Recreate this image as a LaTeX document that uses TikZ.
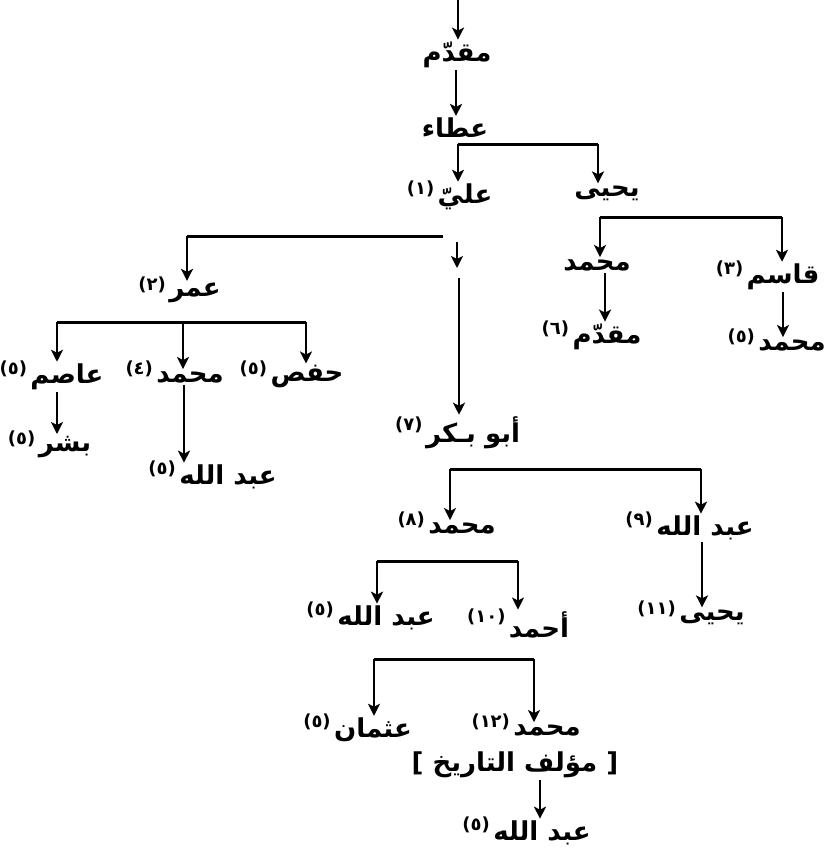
\documentclass[tikz,border=0pt]{standalone}
\usepackage{fontspec}
\newfontfamily\arabicfont[Script=Arabic]{DejaVu Sans}
\newfontfamily\numfont{DejaVu Sans}
\TeXXeTstate=1
\usetikzlibrary{arrows.meta}

\tikzset{
  nm/.style={font=\arabicfont\bfseries\fontsize{26}{30}\selectfont, inner sep=2pt},
  num/.style={font=\numfont\bfseries\fontsize{18}{20}\selectfont, inner sep=0pt, anchor=east},
  arr/.style={-{Stealth[length=12pt,width=12pt,inset=3pt]}, line width=2.4pt},
  bar/.style={line width=3pt},
}

\begin{document}
\begin{tikzpicture}[x=1pt,y=-1pt]
  \useasboundingbox (0,0) rectangle (825,854);

  %names
  \foreach \x/\y/\name/\txt in {457/55/muq/مقدّم, 455/128/ata/عطاء, 465/197/ali/عليّ, 607/193/yah/يحيى,
      597/265/muha/محمد, 783/277/qas/قاسم, 607/337/muqb/مقدّم, 792/345/muhb/محمد,
      195/293/umar/عمر, 67/377/asim/عاصم, 190/377/muhc/محمد, 307/377/hafs/حفص,
      65/447/bish/بشر, 228/477/abda/عبد الله, 473/433/abub/أبو بـكر,
      462/528/muhd/محمد, 705/528/abdb/عبد الله, 712/617/yahb/يحيى,
      386/618/abdc/عبد الله, 539/625/ahm/أحمد, 373/730/uth/عثمان, 547/730/muhe/محمد,
      542/833/abdd/عبد الله}{
      \node[nm] (\name) at (\x,\y) {\beginR\txt\endR};
  }
  \node[nm] (muhe-t) at (515,765) {{\numfont[}\ \beginR مؤلف التاريخ\endR\ {\numfont]}};

  %numbers
  \foreach \name/\n in {ali/١, qas/٣, muqb/٦, muhb/٥, umar/٢, asim/٥, muhc/٤, hafs/٥, bish/٥,
      abda/٥, abub/٧, muhd/٨, abdb/٩, yahb/١١, abdc/٥, ahm/١٠, uth/٥, muhe/١٢, abdd/٥}{
      \node[num] (\name-n) at ([xshift=-1pt,yshift=8pt]\name.west) {(\n)};
  }

  %top
  \coordinate (top) at (458,0);
  \draw[arr] (top) -- (top |- muq.north);

  %single links
  \foreach \a/\b/\x in {muq/ata/456, muha/muqb/605, qas/muhb/783, asim/bish/57,
      muhc/abda/184, abdb/yahb/702, muhe-t/abdd/540}{
      \coordinate (\b-in) at (\x,0);
      \draw[arr] (\a.south -| \b-in) -- (\b.north -| \b-in);
  }

  %ata
  \coordinate (ali-in) at (458,144);
  \coordinate (yah-in) at (598,144);
  \draw[bar] (ali-in) -- (yah-in);

  %yahya
  \coordinate (muha-in) at (600,217);
  \coordinate (qas-in) at (782,217);
  \draw[bar] (muha-in) -- (qas-in);

  %ali
  \coordinate (ali-l) at (443,236);
  \coordinate (umar-in) at (187,236);
  \draw[bar] (ali-l) -- (umar-in);
  \coordinate (ali-out) at (457,242);
  \coordinate (ali-gap) at (457,268);
  \coordinate (abub-in) at (459,278);
  \draw[arr] (ali-out) -- (ali-gap);
  \draw[arr] (abub-in) -- (abub-in |- abub.north);

  %umar
  \coordinate (asim-in) at (57,322);
  \coordinate (muhc-in) at (183,322);
  \coordinate (hafs-in) at (306,322);
  \draw[bar] (asim-in) -- (hafs-in);

  %abu bakr
  \coordinate (muhd-in) at (450,469);
  \coordinate (abdb-in) at (701,469);
  \draw[bar] (muhd-in) -- (abdb-in);

  %muhammad
  \coordinate (abdc-in) at (377,561);
  \coordinate (ahm-in) at (518,561);
  \draw[bar] (abdc-in) -- (ahm-in);

  %abd allah
  \coordinate (uth-in) at (374,659);
  \coordinate (muhe-in) at (534,659);
  \draw[bar] (uth-in) -- (muhe-in);

  %children
  \foreach \c in {ali, yah, muha, qas, umar, asim, muhc, hafs, muhd, abdb, abdc, ahm, uth, muhe}{
      \draw[arr] (\c-in) -- (\c-in |- \c.north);
  }

\end{tikzpicture}
\end{document}
